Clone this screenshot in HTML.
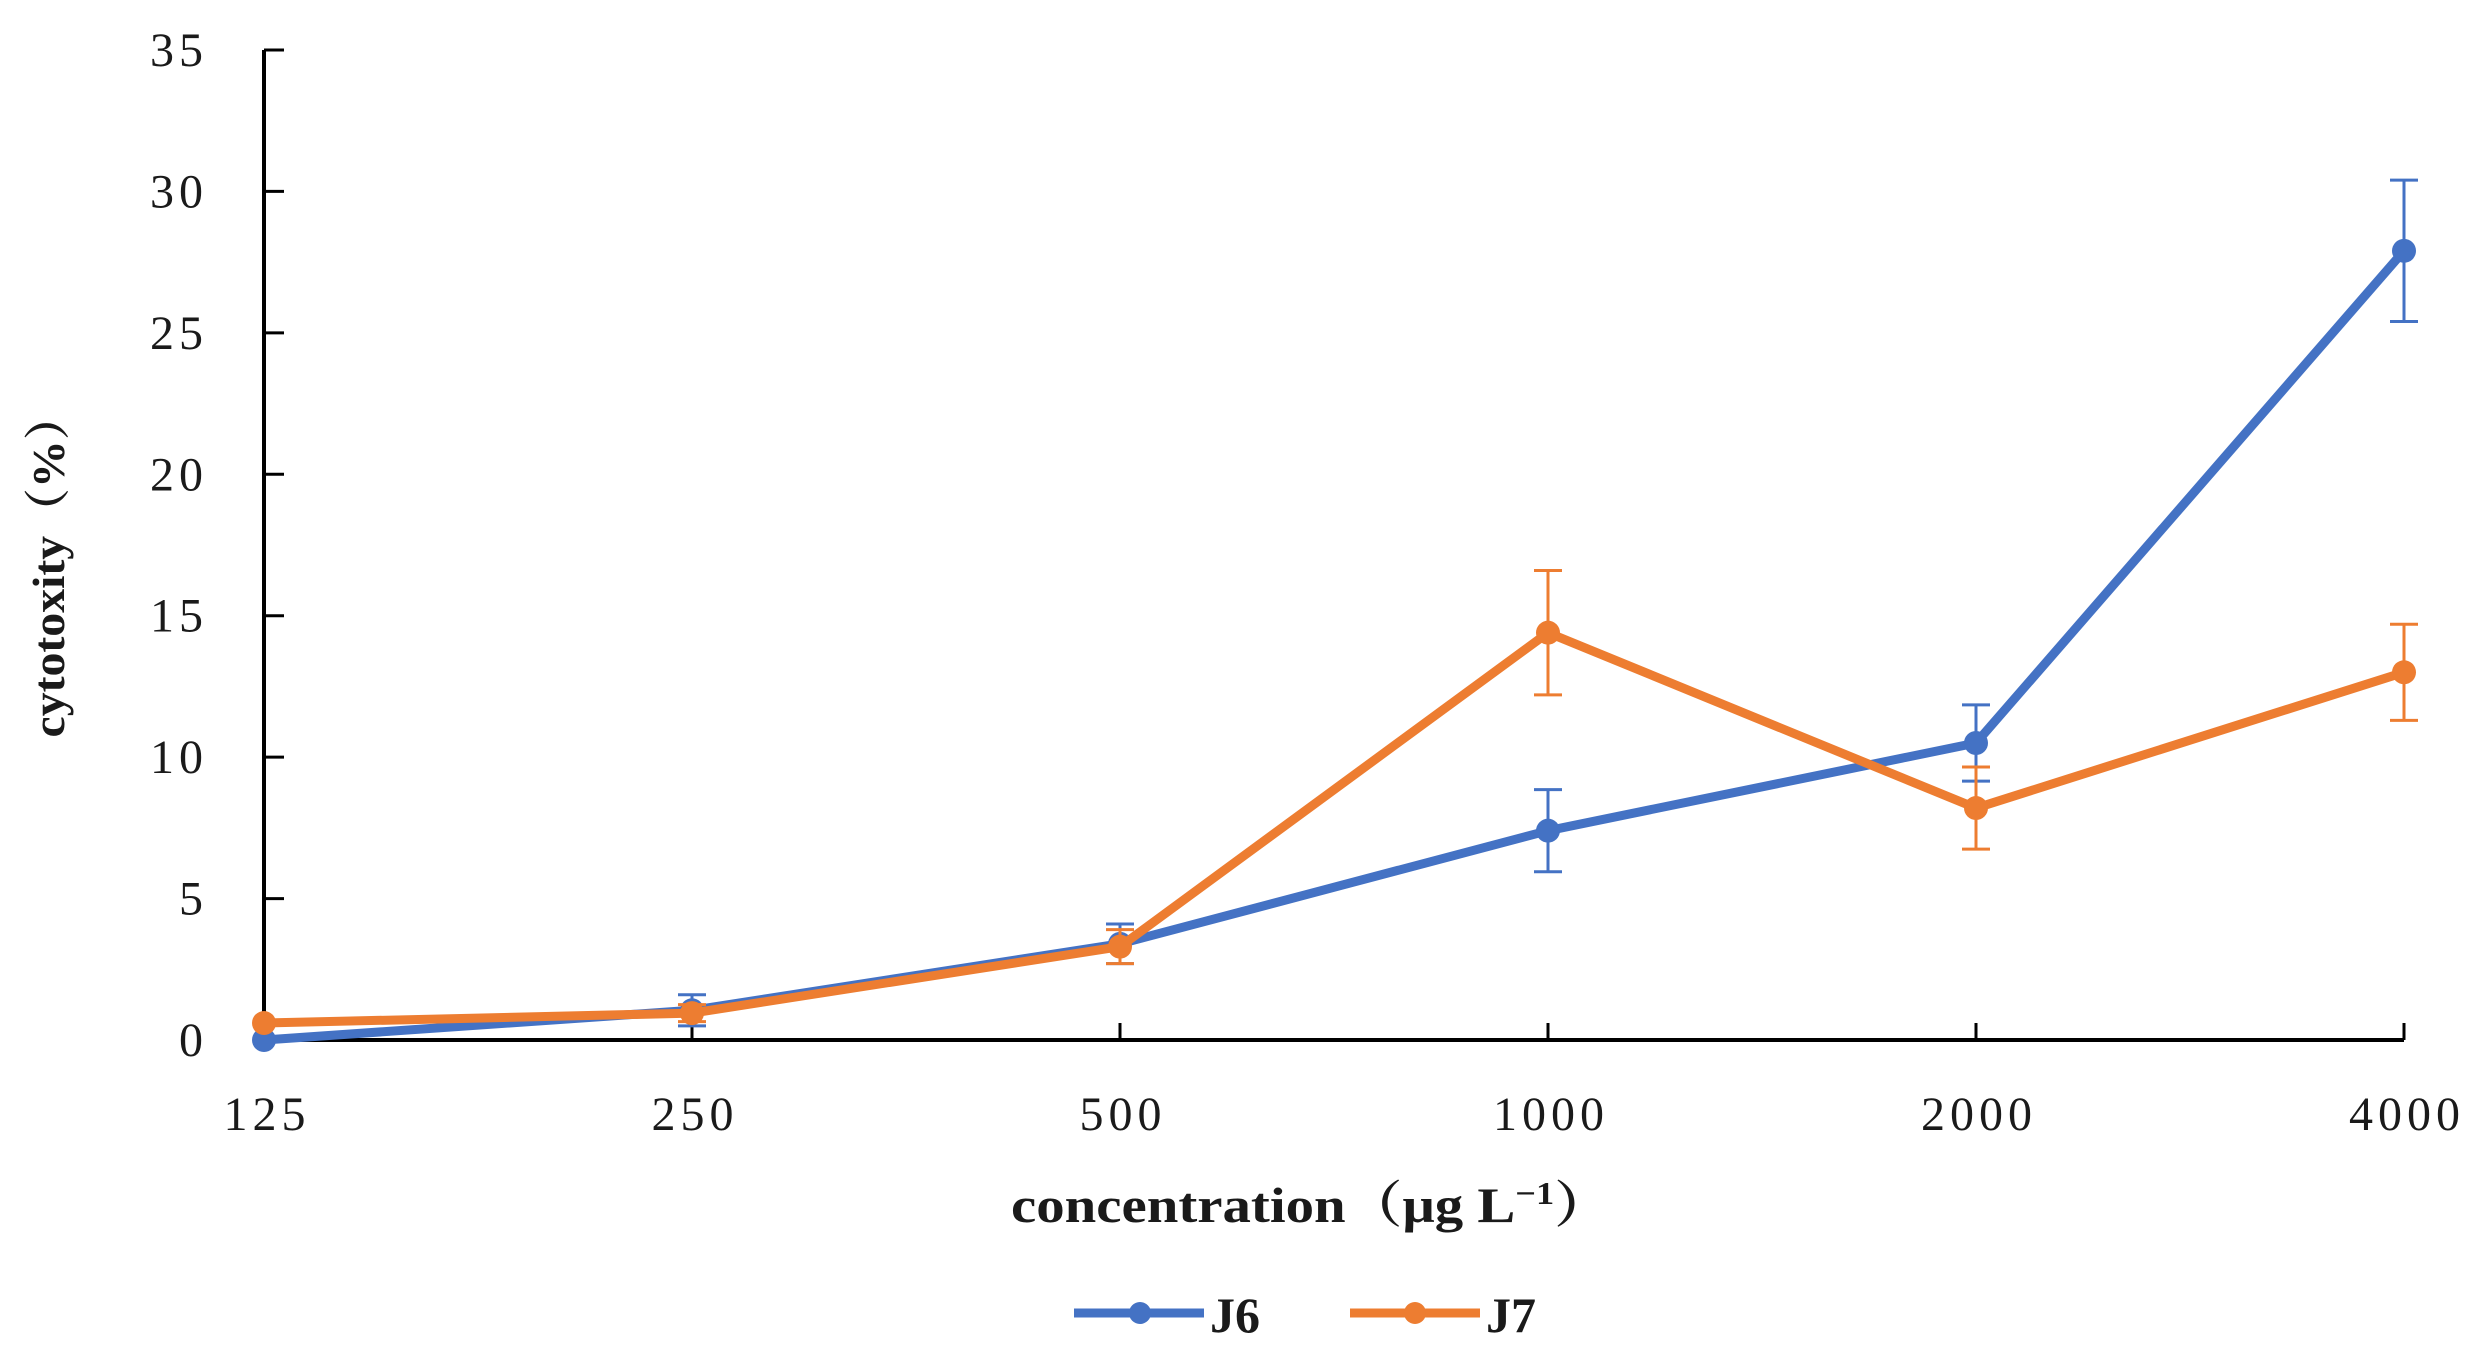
<!DOCTYPE html>
<html><head><meta charset="utf-8"><style>
html,body{margin:0;padding:0;background:#fff;}
svg{display:block;}
text{font-family:"Liberation Serif","Noto Serif CJK SC",serif;fill:#1a1a1a;}
</style></head><body>
<svg id="chart" width="2479" height="1356" viewBox="0 0 2479 1356" xmlns="http://www.w3.org/2000/svg">
<g id="axes"></g>
<g id="series"></g>
<text transform="translate(64,565) rotate(-90)" text-anchor="middle" font-size="46" font-weight="bold" textLength="345" lengthAdjust="spacingAndGlyphs">cytotoxity（%）</text>
<text x="1011" y="1222" font-size="50" font-weight="bold" textLength="600" lengthAdjust="spacingAndGlyphs">concentration（μg  L<tspan dy="-18" font-size="32">−1</tspan><tspan dy="18">）</tspan></text>
<g>
<g>
<line x1="1074" y1="1313" x2="1204" y2="1313" stroke="#4472C4" stroke-width="9"/>
<circle cx="1140" cy="1313" r="11" fill="#4472C4"/>
<text x="1210" y="1332" font-size="50" font-weight="bold">J6</text>
</g>
<g>
<line x1="1350" y1="1313" x2="1480" y2="1313" stroke="#ED7D31" stroke-width="9"/>
<circle cx="1415" cy="1313" r="11" fill="#ED7D31"/>
<text x="1486" y="1332" font-size="50" font-weight="bold">J7</text>
</g>
</g>
</svg>
<script>
const categories = ["125","250","500","1000","2000","4000"];
const j6Values = [0.0, 1.05, 3.4, 7.4, 10.5, 27.9];
const j6Errors = [0.0, 0.55, 0.7, 1.45, 1.35, 2.5];
const j7Values = [0.6, 0.95, 3.3, 14.4, 8.2, 13.0];
const j7Errors = [0.0, 0.3, 0.6, 2.2, 1.45, 1.7];
const yTicks = [0,5,10,15,20,25,30,35];

const NS="http://www.w3.org/2000/svg";
const X0=264, XSTEP=428, Y0=1040, YTOP=50, YMAX=35;
function xPos(i){return X0+i*XSTEP;}
function yPos(v){return Y0-(v/YMAX)*(Y0-YTOP);}
function mk(tag,attrs,parent){const e=document.createElementNS(NS,tag);for(const k in attrs)e.setAttribute(k,attrs[k]);parent.appendChild(e);return e;}
const axes=document.getElementById('axes');
const yAxis=mk('line',{x1:X0,y1:YTOP,x2:X0,y2:Y0,stroke:'#000','stroke-width':4},axes);


const xAxis=mk('line',{x1:X0,y1:Y0,x2:xPos(categories.length-1),y2:Y0,stroke:'#000','stroke-width':4},axes);


yTicks.forEach(t=>{
  const y=yPos(t);
  const tk=mk('line',{x1:X0,y1:y,x2:X0+20,y2:y,stroke:'#000','stroke-width':3},axes);
  
  
  const lb=mk('text',{x:208,y:y+16,'text-anchor':'end','font-size':48,'letter-spacing':5},axes);
  lb.textContent=String(t);
  
  
});
categories.forEach((c,i)=>{
  const x=xPos(i);
  const tk=mk('line',{x1:x,y1:Y0-17,x2:x,y2:Y0,stroke:'#000','stroke-width':3},axes);
  
  
  const lb=mk('text',{x:x+3,y:1130,'text-anchor':'middle','font-size':48,'letter-spacing':5},axes);
  lb.textContent=c;
  
  
});
const series=document.getElementById('series');
function drawSeries(vals,errs,color,name){
  const g=mk('g',{},series);
  
  
  vals.forEach((v,i)=>{
    if(errs[i]>0){
      const x=xPos(i),yt=yPos(v+errs[i]),yb=yPos(v-errs[i]);
      const eb=mk('path',{d:`M${x},${yt}V${yb}M${x-14},${yt}H${x+14}M${x-14},${yb}H${x+14}`,stroke:color,'stroke-width':3,fill:'none'},g);
      
      
    }
  });
  const pts=vals.map((v,i)=>xPos(i)+','+yPos(v)).join(' ');
  const pl=mk('polyline',{points:pts,fill:'none',stroke:color,'stroke-width':9,'stroke-linejoin':'round'},g);
  
  
  vals.forEach((v,i)=>{
    const c=mk('circle',{cx:xPos(i),cy:yPos(v),r:12,fill:color},g);
    
    
  });
}
drawSeries(j6Values,j6Errors,'#4472C4','j6');
drawSeries(j7Values,j7Errors,'#ED7D31','j7');
</script>
</body></html>
